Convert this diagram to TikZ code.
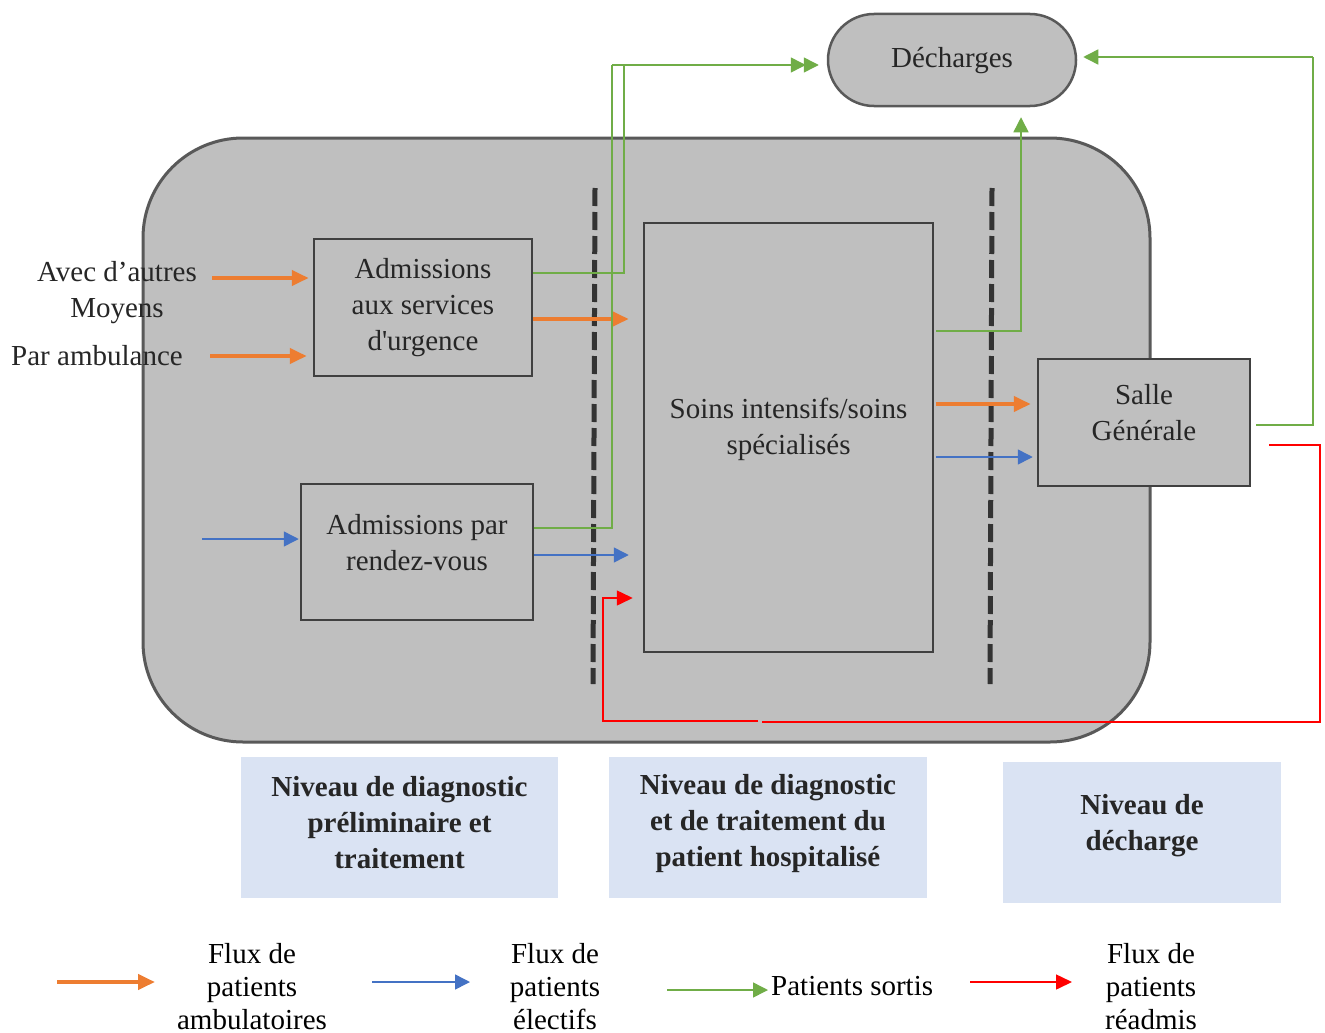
\documentclass[tikz,border=0pt]{standalone}
\usepackage{fontspec}
\setmainfont{Liberation Serif}
\usetikzlibrary{arrows.meta}
\definecolor{zonefill}{HTML}{BFBFBF}
\definecolor{zoneline}{HTML}{595959}
\definecolor{boxline}{HTML}{404040}
\definecolor{txtc}{HTML}{262626}
\definecolor{lvlfill}{HTML}{DAE3F3}
\definecolor{oflow}{HTML}{ED7D31}
\definecolor{bflow}{HTML}{4472C4}
\definecolor{gflow}{HTML}{70AD47}
\definecolor{rflow}{HTML}{FF0000}
\definecolor{dashc}{HTML}{333333}
\tikzset{
  mainfont/.style={font=\fontsize{29}{36}\selectfont, text=txtc},
  boxnode/.style={draw=boxline, line width=2.5pt, fill=zonefill, inner sep=0pt},
  txtnode/.style={mainfont, align=center, inner sep=0pt},
  lvlbox/.style={fill=lvlfill, inner sep=0pt},
  lvltxt/.style={font=\fontsize{29}{36}\selectfont\bfseries, text=txtc, align=center, inner sep=0pt},
  legtxt/.style={font=\fontsize{29}{33}\selectfont, text=black, align=center, inner sep=0pt},
  oarr/.style={draw=oflow, line width=4pt, -{Triangle[length=17pt,width=15pt]}},
  barr/.style={draw=bflow, line width=1.5pt, -{Triangle[length=15pt,width=15pt]}},
  garr/.style={draw=gflow, line width=1.5pt, -{Triangle[length=15pt,width=15pt]}},
  gline/.style={draw=gflow, line width=1.5pt},
  rarr/.style={draw=rflow, line width=1.5pt, -{Triangle[length=16pt,width=15pt]}},
  rline/.style={draw=rflow, line width=1.5pt},
  sepline/.style={draw=dashc, line width=5pt, dash pattern=on 18pt off 6pt}
}
\begin{document}
\begin{tikzpicture}[x=1pt,y=-1pt]
\useasboundingbox (0,0) rectangle (1325,1033);
\fill[white] (0,0) rectangle (1325,1033);

% main zone
\node[draw=zoneline, fill=zonefill, line width=3pt, rounded corners=100pt,
      minimum width=1007pt, minimum height=604pt, inner sep=0pt] (zone) at (646.5,440) {};

% dashed separators
\coordinate (s1a) at (595,188);
\coordinate (s1b) at (593,684);
\coordinate (s2a) at (992,188);
\coordinate (s2b) at (990,684);
\draw[sepline] (s1a) -- (s1b);
\draw[sepline] (s2a) -- (s2b);

% Décharges
\node[draw=zoneline, fill=zonefill, line width=2.5pt, rounded corners=46pt,
      minimum width=248pt, minimum height=92pt, inner sep=0pt] (dech) at (952,60) {};
\node[txtnode] (dechT) at (952,61) {Décharges};

% boxes
\node[boxnode, minimum width=218pt, minimum height=137pt] (urg) at (423,307.5) {};
\node[txtnode] (urgT) at (423,308) {Admissions\\aux services\\d\textquotesingle urgence};

\node[boxnode, minimum width=232pt, minimum height=136pt] (rdv) at (417,552) {};
\node[txtnode] (rdvT) at (417,543) {Admissions par\\rendez-vous};

\node[boxnode, minimum width=289pt, minimum height=429pt] (soins) at (788.5,437.5) {};
\node[txtnode] (soinsT) at (788.5,429) {Soins intensifs/soins\\spécialisés};

\node[boxnode, minimum width=212pt, minimum height=127pt] (salle) at (1144,422.5) {};
\node[txtnode] (salleT) at (1144,413) {Salle\\Générale};

% left texts
\node[txtnode] (avec) at (117,293) {Avec d’autres\\Moyens};
\node[txtnode] (ambu) at (97,356) {Par ambulance};

% inputs
\coordinate (a1) at (212,278);
\coordinate (a2) at (210,356);
\coordinate (b1) at (202,539);
\draw[oarr, shorten >=4pt] (a1) -- (urg.west |- a1);
\draw[oarr, shorten >=6pt] (a2) -- (urg.west |- a2);
\draw[barr, shorten >=1pt] (b1) -- (rdv.west |- b1);

% level 1 -> soins
\draw[oarr, shorten >=14pt] ([yshift=-11.5pt]urg.east) -- ([yshift=118.5pt]soins.west);
\draw[barr, shorten >=14pt] ([yshift=-3pt]rdv.east) -- ([yshift=-117.5pt]soins.west);

% soins -> salle
\draw[oarr, shorten >=6pt] ([xshift=2pt,yshift=33.5pt]soins.east) -- ([yshift=18.5pt]salle.west);
\draw[barr, shorten >=4pt] ([xshift=2pt,yshift=-19.5pt]soins.east) -- ([yshift=-34.5pt]salle.west);

% green discharges
\coordinate (g1) at (624,65);
\coordinate (g2) at (612,65);
\coordinate (g3) at (1313,57);
\draw[gline] ([yshift=34.5pt]urg.east) -| (g1);
\draw[garr, shorten >=8pt] (g1) -- (dech.west |- g1);
\draw[gline] ([yshift=24pt]rdv.east) -| (g2);
\draw[garr, shorten >=21pt] (g2) -- (dech.west |- g2);
\draw[garr] ([xshift=2pt,yshift=106.5pt]soins.east) -| ([xshift=69pt,yshift=-10pt]dech.south);
\draw[gline] ([xshift=5pt,yshift=-2.5pt]salle.east) -| (g3);
\draw[garr] (g3) -- ([xshift=6pt,yshift=3pt]dech.east);

% red readmission
\coordinate (r1) at (1320,722);
\coordinate (r2) at (762,722);
\coordinate (r3) at (758,721);
\coordinate (r4) at (603,598);
\draw[rline] ([xshift=18pt,yshift=-22.5pt]salle.east) -| (r1) -- (r2);
\draw[rarr, shorten >=10pt] (r3) -| (r4) -- (soins.west |- r4);

% level labels
\node[lvlbox, minimum width=317pt, minimum height=141pt] (lvl1) at (399.5,827.5) {};
\node[lvltxt] (lvl1T) at (399.5,823) {Niveau de diagnostic\\préliminaire et\\traitement};
\node[lvlbox, minimum width=318pt, minimum height=141pt] (lvl2) at (768,827.5) {};
\node[lvltxt] (lvl2T) at (768,824) {Niveau de diagnostic\\et de traitement du\\patient hospitalisé};
\node[lvlbox, minimum width=278pt, minimum height=141pt] (lvl3) at (1142,832.5) {};
\node[lvltxt] (lvl3T) at (1142,826) {Niveau de\\décharge};

% legend
\coordinate (l1a) at (57,982);  \coordinate (l1b) at (155,982);
\coordinate (l2a) at (372,982); \coordinate (l2b) at (470,982);
\coordinate (l3a) at (667,990); \coordinate (l3b) at (768,990);
\coordinate (l4a) at (970,982); \coordinate (l4b) at (1072,982);
\draw[oarr] (l1a) -- (l1b);
\draw[barr] (l2a) -- (l2b);
\draw[garr] (l3a) -- (l3b);
\draw[rarr] (l4a) -- (l4b);
\node[legtxt] (leg1) at (252,987) {Flux de\\patients\\ambulatoires};
\node[legtxt] (leg2) at (555,987) {Flux de\\patients\\électifs};
\node[legtxt, anchor=west] (leg3) at (771,986) {Patients sortis};
\node[legtxt] (leg4) at (1151,987) {Flux de\\patients\\réadmis};
\end{tikzpicture}
\end{document}
